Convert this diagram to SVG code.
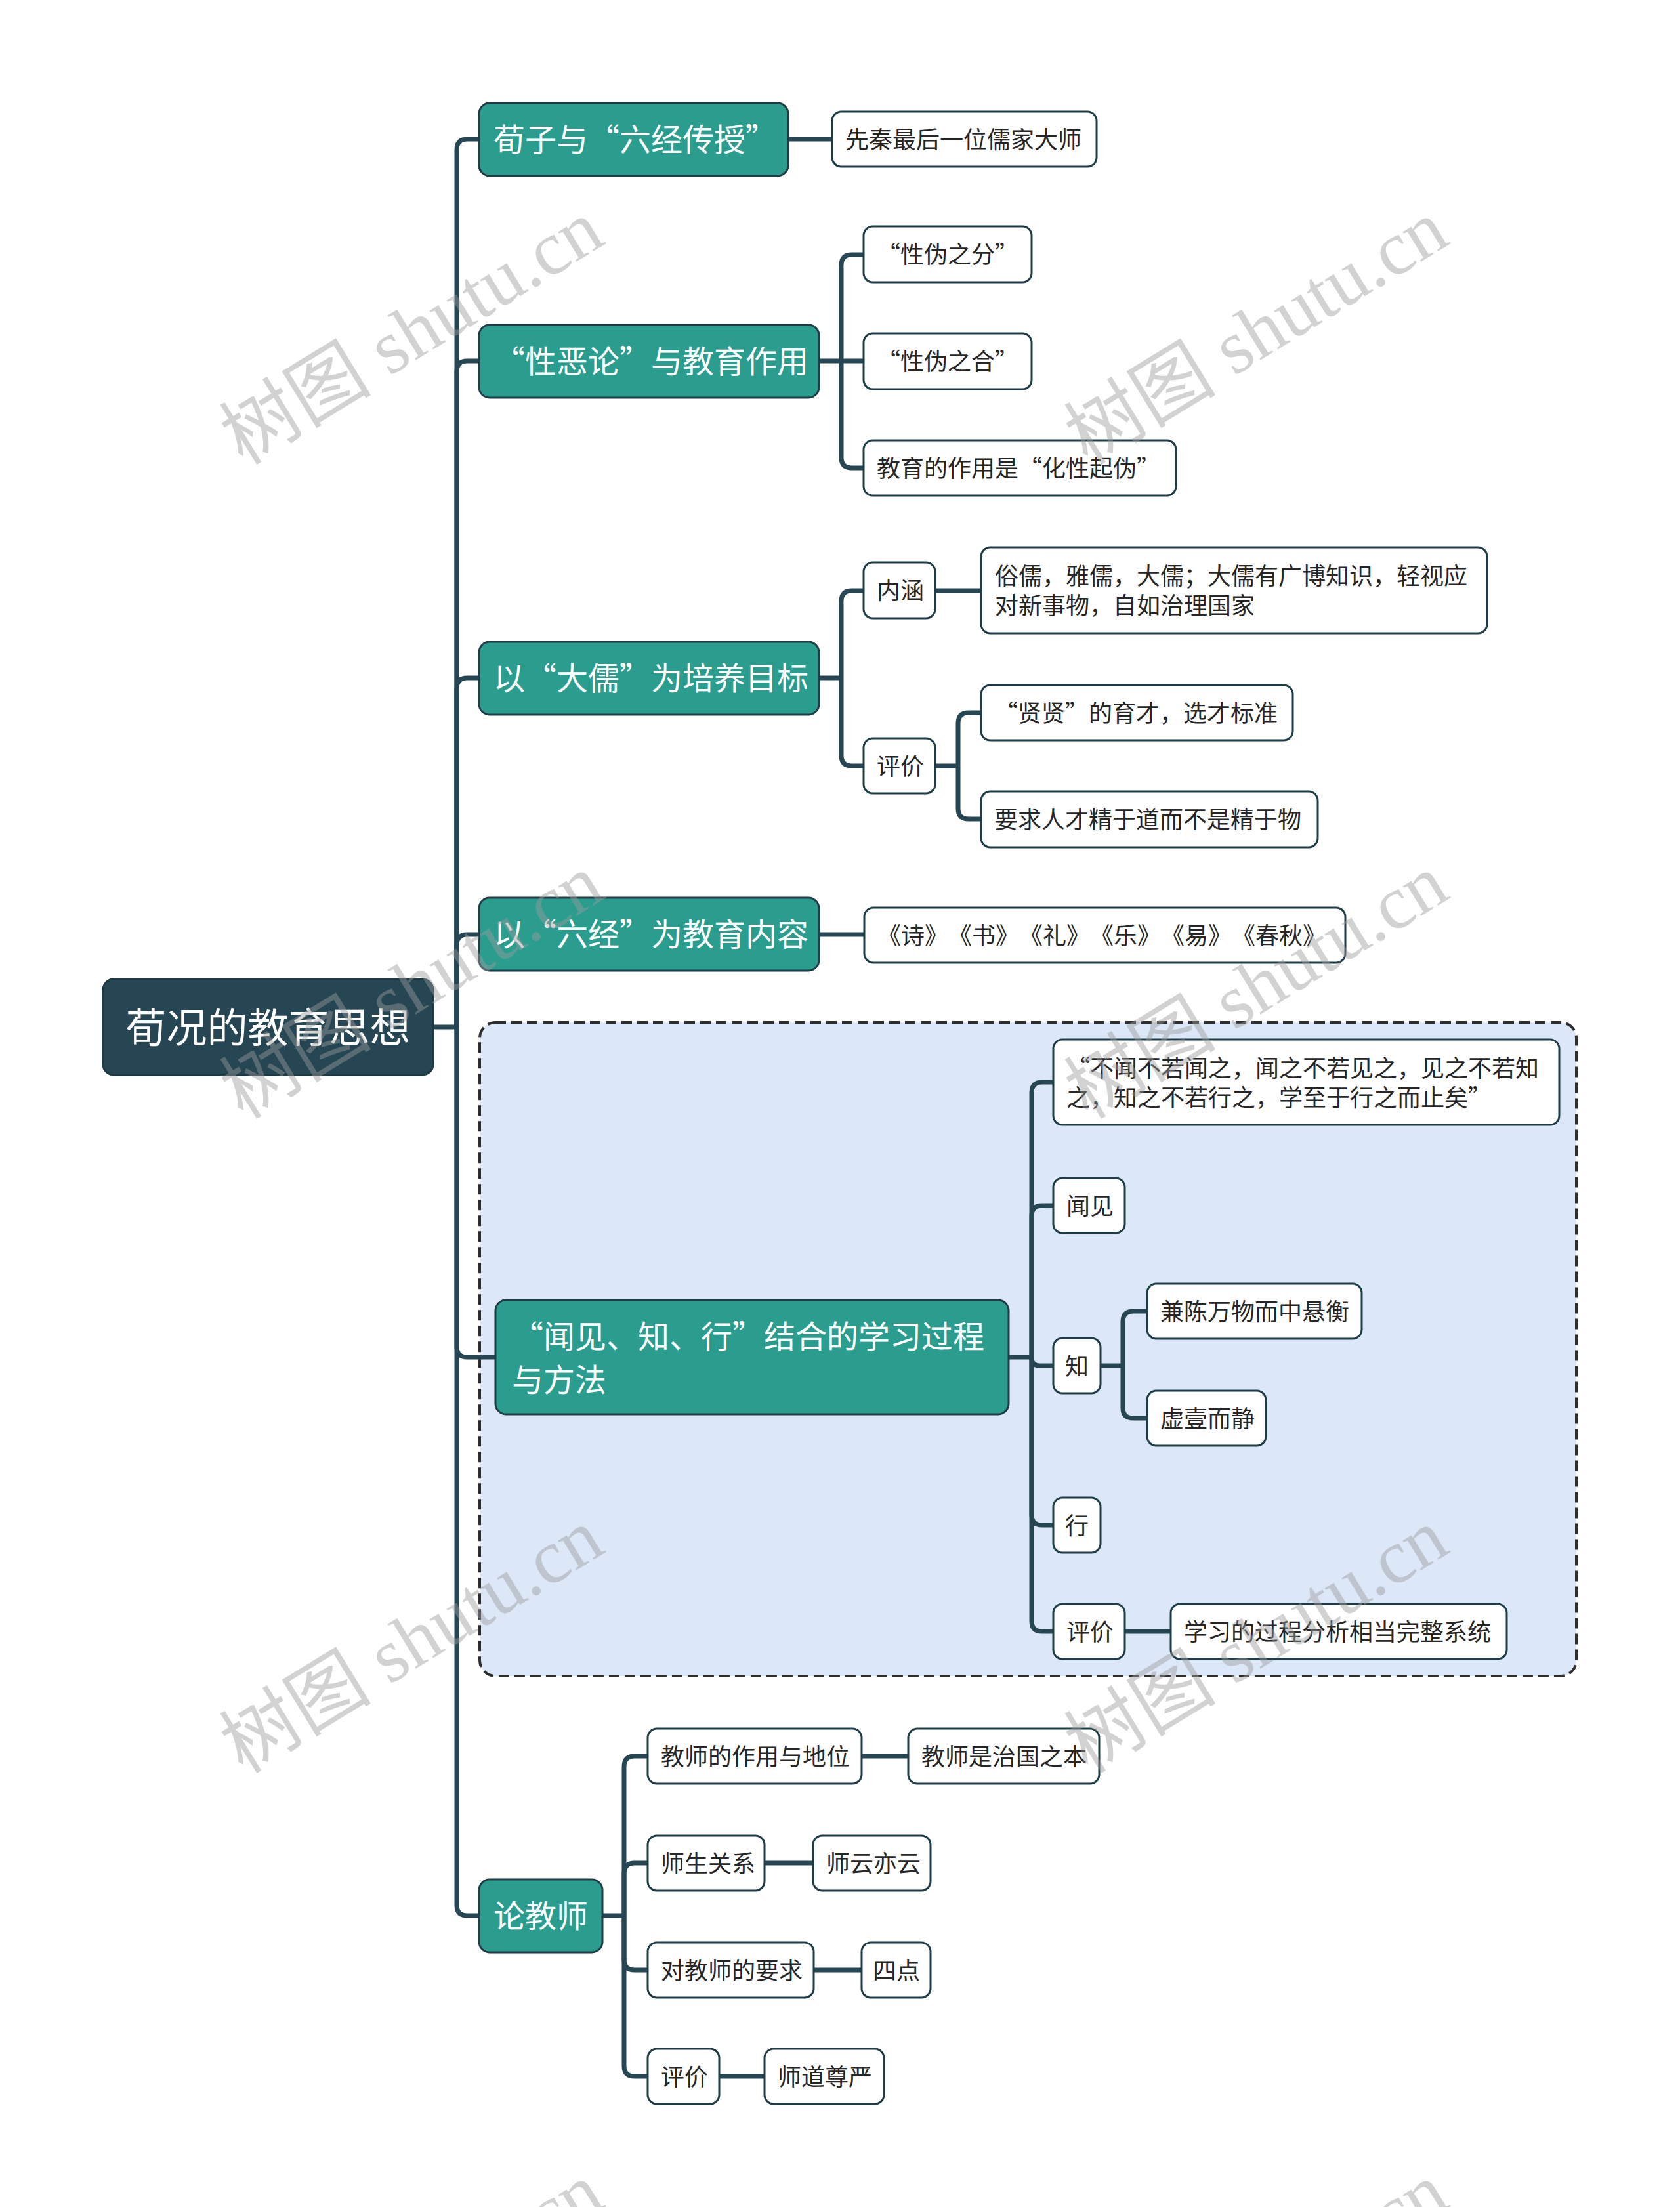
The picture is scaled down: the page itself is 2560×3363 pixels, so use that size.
<svg xmlns="http://www.w3.org/2000/svg" width="2560" height="3363" viewBox="0 0 2560 3363">
<style>
text{font-family:"Noto Sans CJK SC","Noto Sans CJK TC","Liberation Sans",sans-serif;font-feature-settings:"chws" 0,"halt" 0,"palt" 0;text-spacing-trim:space-all}
.root{fill:#264653;stroke:#1d3a44;stroke-width:3}
.l1{fill:#2a9d8f;stroke:#1f3d47;stroke-width:3}
.leaf{fill:#ffffff;stroke:#1f3d47;stroke-width:3}
.t0{font-size:62px;fill:#ffffff}
.t1{font-size:48px;fill:#ffffff}
.t2{font-size:36px;fill:#262626}
.conn path{fill:none;stroke:#264653;stroke-width:7;stroke-linejoin:round}
.wm text{font-size:116px;fill:#9c9c9c;fill-opacity:0.45}
</style>
<rect width="2560" height="3363" fill="#ffffff"/>
<rect id="group-box" x="731" y="1558" width="1671" height="996" rx="24" fill="#dce8f7" stroke="#2e2e2e" stroke-width="4" stroke-dasharray="16 8"/>
<g id="connectors" class="conn">
<path d="M660,1565 L696,1565"/>
<path d="M696,1565 L696,228 Q696,212 712,212 L730,212"/>
<path d="M696,1565 L696,566 Q696,550 712,550 L730,550"/>
<path d="M696,1565 L696,1049 Q696,1033 712,1033 L730,1033"/>
<path d="M696,1565 L696,1440 Q696,1424 712,1424 L730,1424"/>
<path d="M696,1565 L696,2052 Q696,2068 712,2068 L755,2068"/>
<path d="M696,1565 L696,2903 Q696,2919 712,2919 L730,2919"/>
<path d="M1201,212 L1268,212"/>
<path d="M1248,550 L1282,550"/>
<path d="M1282,550 L1282,404 Q1282,388 1298,388 L1316,388"/>
<path d="M1282,550 L1316,550"/>
<path d="M1282,550 L1282,697 Q1282,713 1298,713 L1316,713"/>
<path d="M1248,1033 L1282,1033"/>
<path d="M1282,1033 L1282,916 Q1282,900 1298,900 L1316,900"/>
<path d="M1282,1033 L1282,1151 Q1282,1167 1298,1167 L1316,1167"/>
<path d="M1425,900 L1495,900"/>
<path d="M1425,1167 L1460,1167"/>
<path d="M1460,1167 L1460,1102 Q1460,1086 1476,1086 L1495,1086"/>
<path d="M1460,1167 L1460,1232 Q1460,1248 1476,1248 L1495,1248"/>
<path d="M1248,1424 L1317,1424"/>
<path d="M1537,2068 L1572,2068"/>
<path d="M1572,2068 L1572,1665 Q1572,1649 1588,1649 L1605,1649"/>
<path d="M1572,2068 L1572,1853 Q1572,1837 1588,1837 L1605,1837"/>
<path d="M1572,2068 L1572,2069 Q1572,2081 1584,2081 L1605,2081"/>
<path d="M1572,2068 L1572,2308 Q1572,2324 1588,2324 L1605,2324"/>
<path d="M1572,2068 L1572,2470 Q1572,2486 1588,2486 L1605,2486"/>
<path d="M1677,2081 L1711,2081"/>
<path d="M1711,2081 L1711,2014 Q1711,1998 1727,1998 L1748,1998"/>
<path d="M1711,2081 L1711,2145 Q1711,2161 1727,2161 L1748,2161"/>
<path d="M1714,2486 L1784,2486"/>
<path d="M918,2919 L951,2919"/>
<path d="M951,2919 L951,2692 Q951,2676 967,2676 L987,2676"/>
<path d="M951,2919 L951,2855 Q951,2839 967,2839 L987,2839"/>
<path d="M951,2919 L951,2986 Q951,3002 967,3002 L987,3002"/>
<path d="M951,2919 L951,3148 Q951,3164 967,3164 L987,3164"/>
<path d="M1313,2676 L1384,2676"/>
<path d="M1165,2839 L1239,2839"/>
<path d="M1240,3002 L1313,3002"/>
<path d="M1094,3164 L1165,3164"/>
</g>
<g id="root"><rect class="root" x="157" y="1492" width="503" height="146" rx="16"/><text class="t0" x="408.5" y="1589" text-anchor="middle">荀况的教育思想</text></g>
<g id="n1"><rect class="l1" x="730" y="157" width="471" height="111" rx="16"/><text class="t1" x="752" y="230">荀子与“六经传授”</text></g>
<g id="n1-1"><rect class="leaf" x="1268" y="170" width="403" height="84" rx="14"/><text class="t2" x="1288" y="226">先秦最后一位儒家大师</text></g>
<g id="n2"><rect class="l1" x="730" y="495" width="518" height="111" rx="16"/><text class="t1" x="752" y="568">“性恶论”与教育作用</text></g>
<g id="n2-1"><rect class="leaf" x="1316" y="345" width="256" height="85" rx="14"/><text class="t2" x="1336" y="401">“性伪之分”</text></g>
<g id="n2-2"><rect class="leaf" x="1316" y="508" width="256" height="85" rx="14"/><text class="t2" x="1336" y="564">“性伪之合”</text></g>
<g id="n2-3"><rect class="leaf" x="1316" y="671" width="476" height="84" rx="14"/><text class="t2" x="1336" y="727">教育的作用是“化性起伪”</text></g>
<g id="n3"><rect class="l1" x="730" y="978" width="518" height="111" rx="16"/><text class="t1" x="752" y="1051">以“大儒”为培养目标</text></g>
<g id="n3-1"><rect class="leaf" x="1316" y="857" width="109" height="85" rx="14"/><text class="t2" x="1336" y="913">内涵</text></g>
<g id="n3-1-1"><rect class="leaf" x="1495" y="834" width="771" height="131" rx="14"/><text class="t2" x="1516" y="891">俗儒，雅儒，大儒；大儒有广博知识，轻视应</text><text class="t2" x="1516" y="936">对新事物，自如治理国家</text></g>
<g id="n3-2"><rect class="leaf" x="1316" y="1125" width="109" height="84" rx="14"/><text class="t2" x="1336" y="1181">评价</text></g>
<g id="n3-2-1"><rect class="leaf" x="1495" y="1044" width="475" height="84" rx="14"/><text class="t2" x="1515" y="1100">“贤贤”的育才，选才标准</text></g>
<g id="n3-2-2"><rect class="leaf" x="1495" y="1206" width="513" height="85" rx="14"/><text class="t2" x="1515" y="1262">要求人才精于道而不是精于物</text></g>
<g id="n4"><rect class="l1" x="730" y="1368" width="518" height="111" rx="16"/><text class="t1" x="752" y="1441">以“六经”为教育内容</text></g>
<g id="n4-1"><rect class="leaf" x="1317" y="1383" width="733" height="84" rx="14"/><text class="t2" x="1337" y="1439">《诗》《书》《礼》《乐》《易》《春秋》</text></g>
<g id="n5"><rect class="l1" x="755" y="1981" width="782" height="174" rx="16"/><text class="t1" x="780" y="2054">“闻见、知、行”结合的学习过程</text><text class="t1" x="780" y="2120">与方法</text></g>
<g id="n5-1"><rect class="leaf" x="1605" y="1584" width="771" height="130" rx="14"/><text class="t2" x="1625" y="1641">“不闻不若闻之，闻之不若见之，见之不若知</text><text class="t2" x="1625" y="1686">之，知之不若行之，学至于行之而止矣”</text></g>
<g id="n5-2"><rect class="leaf" x="1605" y="1795" width="109" height="84" rx="14"/><text class="t2" x="1625" y="1851">闻见</text></g>
<g id="n5-3"><rect class="leaf" x="1605" y="2039" width="72" height="84" rx="14"/><text class="t2" x="1623" y="2095">知</text></g>
<g id="n5-3-1"><rect class="leaf" x="1748" y="1956" width="327" height="84" rx="14"/><text class="t2" x="1768" y="2012">兼陈万物而中悬衡</text></g>
<g id="n5-3-2"><rect class="leaf" x="1748" y="2119" width="181" height="84" rx="14"/><text class="t2" x="1768" y="2175">虚壹而静</text></g>
<g id="n5-4"><rect class="leaf" x="1605" y="2282" width="72" height="84" rx="14"/><text class="t2" x="1623" y="2338">行</text></g>
<g id="n5-5"><rect class="leaf" x="1605" y="2444" width="109" height="84" rx="14"/><text class="t2" x="1625" y="2500">评价</text></g>
<g id="n5-5-1"><rect class="leaf" x="1784" y="2444" width="512" height="84" rx="14"/><text class="t2" x="1804" y="2500">学习的过程分析相当完整系统</text></g>
<g id="n6"><rect class="l1" x="730" y="2864" width="188" height="111" rx="16"/><text class="t1" x="752" y="2937">论教师</text></g>
<g id="n6-1"><rect class="leaf" x="987" y="2634" width="326" height="84" rx="14"/><text class="t2" x="1007" y="2690">教师的作用与地位</text></g>
<g id="n6-1-1"><rect class="leaf" x="1384" y="2634" width="291" height="84" rx="14"/><text class="t2" x="1404" y="2690">教师是治国之本</text></g>
<g id="n6-2"><rect class="leaf" x="987" y="2797" width="178" height="84" rx="14"/><text class="t2" x="1007" y="2853">师生关系</text></g>
<g id="n6-2-1"><rect class="leaf" x="1239" y="2797" width="179" height="84" rx="14"/><text class="t2" x="1259" y="2853">师云亦云</text></g>
<g id="n6-3"><rect class="leaf" x="987" y="2960" width="253" height="84" rx="14"/><text class="t2" x="1007" y="3016">对教师的要求</text></g>
<g id="n6-3-1"><rect class="leaf" x="1313" y="2960" width="105" height="84" rx="14"/><text class="t2" x="1330" y="3016">四点</text></g>
<g id="n6-4"><rect class="leaf" x="987" y="3122" width="109" height="84" rx="14"/><text class="t2" x="1007" y="3178">评价</text></g>
<g id="n6-4-1"><rect class="leaf" x="1165" y="3122" width="182" height="84" rx="14"/><text class="t2" x="1185" y="3178">师道尊严</text></g>
<g id="watermark" class="wm">
<text transform="translate(648,540) rotate(-31.5)" text-anchor="middle">树图<tspan font-family="Liberation Serif"> shutu.cn</tspan></text>
<text transform="translate(1935,540) rotate(-31.5)" text-anchor="middle">树图<tspan font-family="Liberation Serif"> shutu.cn</tspan></text>
<text transform="translate(648,1537) rotate(-31.5)" text-anchor="middle">树图<tspan font-family="Liberation Serif"> shutu.cn</tspan></text>
<text transform="translate(1935,1537) rotate(-31.5)" text-anchor="middle">树图<tspan font-family="Liberation Serif"> shutu.cn</tspan></text>
<text transform="translate(648,2534) rotate(-31.5)" text-anchor="middle">树图<tspan font-family="Liberation Serif"> shutu.cn</tspan></text>
<text transform="translate(1935,2534) rotate(-31.5)" text-anchor="middle">树图<tspan font-family="Liberation Serif"> shutu.cn</tspan></text>
<text transform="translate(648,3531) rotate(-31.5)" text-anchor="middle">树图<tspan font-family="Liberation Serif"> shutu.cn</tspan></text>
<text transform="translate(1935,3531) rotate(-31.5)" text-anchor="middle">树图<tspan font-family="Liberation Serif"> shutu.cn</tspan></text>
</g>
</svg>
